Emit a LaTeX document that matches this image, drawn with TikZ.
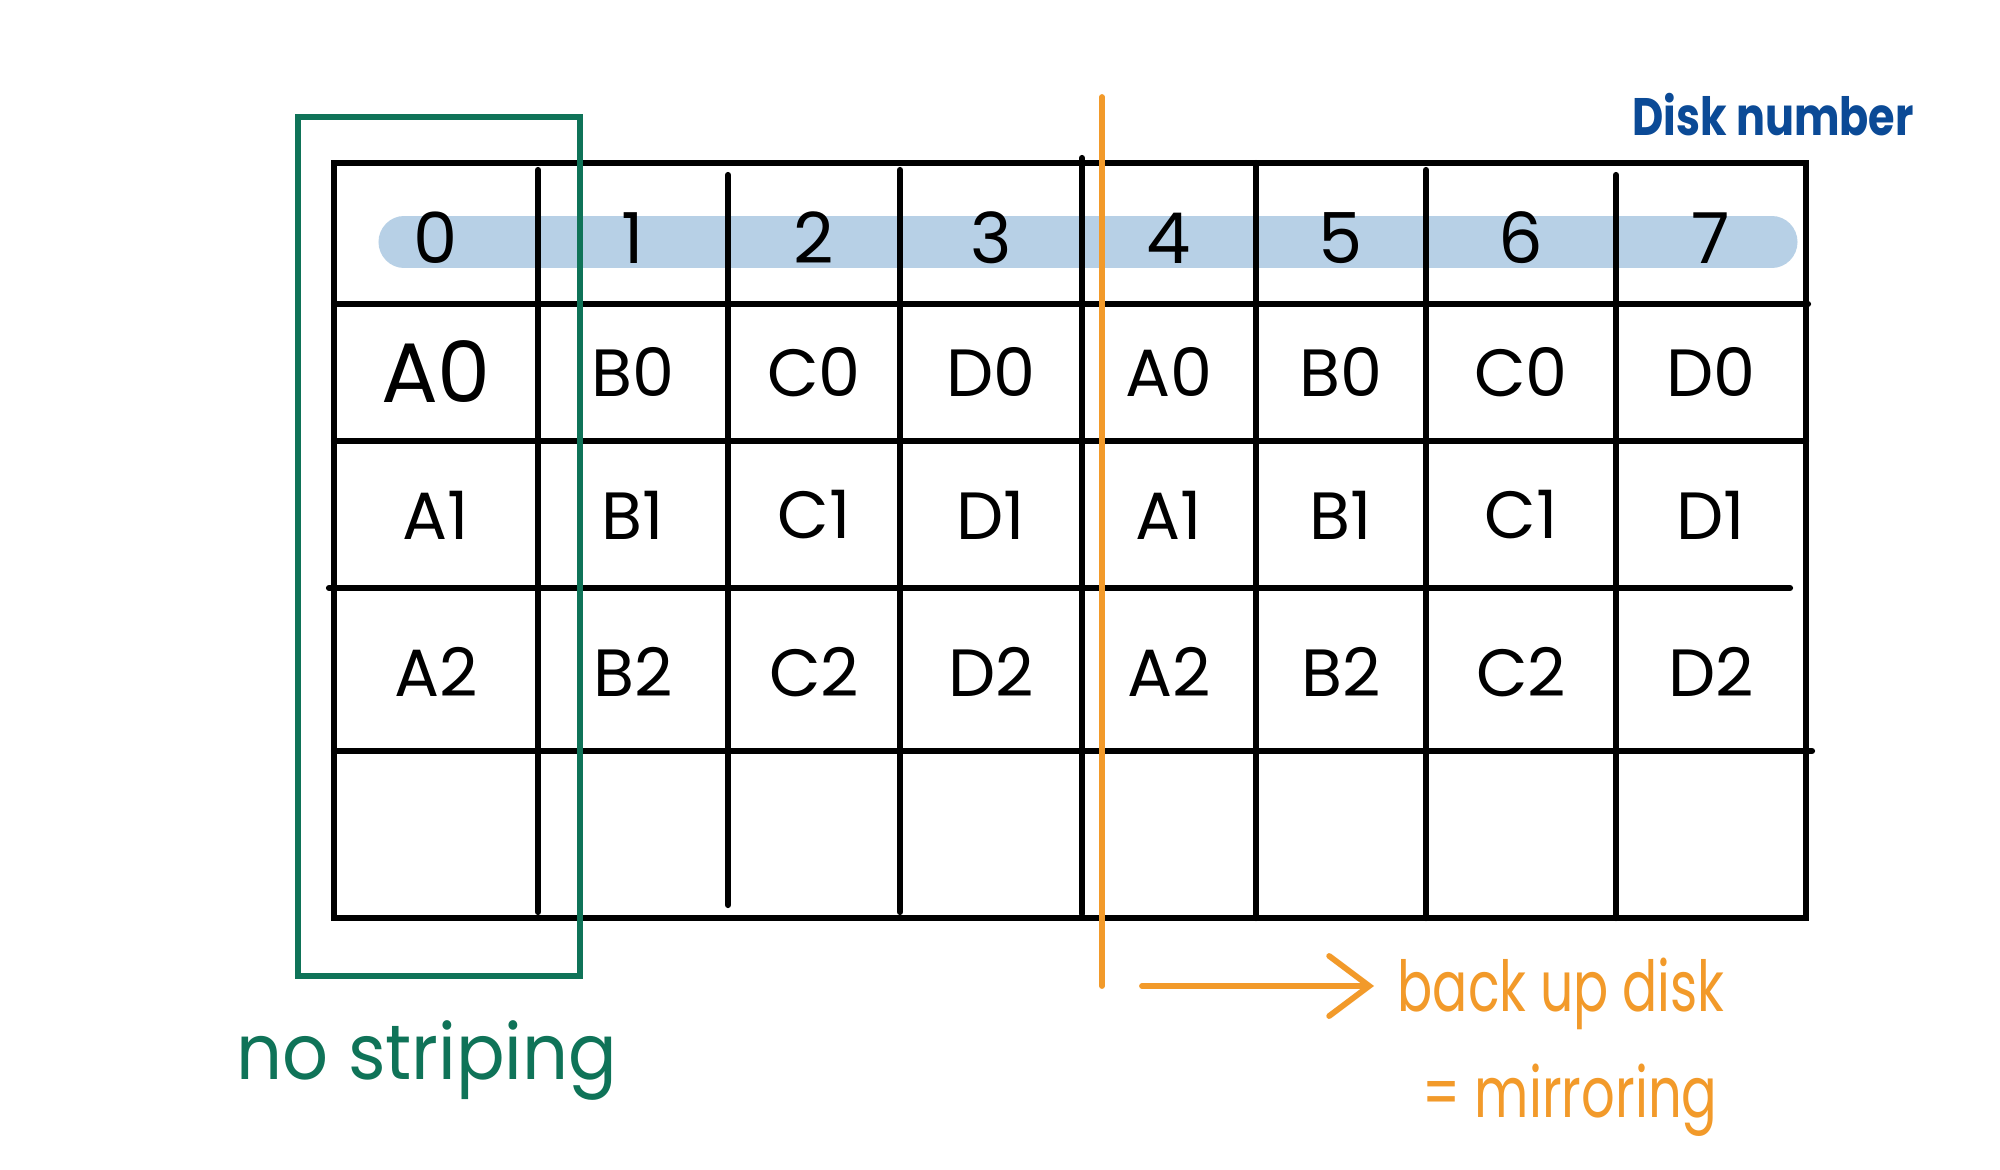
\documentclass[tikz,border=0pt]{standalone}
\usepackage{fontspec}
\setmainfont{Poppins}
\usetikzlibrary{arrows.meta}
\definecolor{tgreen}{HTML}{0F7358}
\definecolor{torange}{HTML}{F29A2A}
\definecolor{tblue}{HTML}{0B4A96}
\definecolor{tband}{HTML}{B7D0E6}
\tikzset{
  gridline/.style={line width=0.062cm, black, line cap=round},
  hdr/.style={font=\fontsize{20}{24}\selectfont, inner sep=0pt},
  cell/.style={font=\fontsize{19}{22}\selectfont, inner sep=0pt},
  bigcell/.style={font=\fontsize{24}{26}\selectfont, inner sep=0pt},
}
\begin{document}
\begin{tikzpicture}[x=0.01cm,y=-0.01cm]
\useasboundingbox[fill=white] (0,0) rectangle (2000,1170);
% header band
\draw[tband, line width=0.51cm, line cap=round] (404,242) -- (1772,242);
% table grid
\draw[gridline] (334,163) rectangle (1806,918);
\draw[gridline] (334,304) -- (1808,304);
\draw[gridline] (334,441) -- (1806,441);
\draw[gridline] (329,588) -- (1790,588);
\draw[gridline] (334,751) -- (1812,751);
\draw[gridline] (538,170) -- (538,912);
\draw[gridline] (728,175) -- (728,905);
\draw[gridline] (900,170) -- (900,912);
\draw[gridline] (1082,158) -- (1082,914);
\draw[gridline] (1256,163) -- (1256,918);
\draw[gridline] (1426,170) -- (1426,918);
\draw[gridline] (1616,175) -- (1616,918);
% green box
\draw[tgreen, line width=0.068cm] (298,117) rectangle (580,976);
% orange divider
\draw[torange, line width=0.058cm, line cap=round] (1102,97) -- (1102,986);
% header digits
\foreach \x/\t [count=\i] in {436/0,633/1,814/2,991/3,1169/4,1341/5,1521/6,1711/7}
  \node[hdr] (h\i) at (\x,238) {\t};
% rows
\node[bigcell] (r1c1) at (436,372) {A0};
\foreach \x/\t [count=\i from 2] in {633/B0,814/C0,991/D0,1169/A0,1341/B0,1521/C0,1711/D0}
  \node[cell] (r1c\i) at (\x,372) {\t};
\foreach \x/\t [count=\i] in {436/A1,633/B1,814/C1,991/D1,1169/A1,1341/B1,1521/C1,1711/D1}
  \node[cell] (r2c\i) at (\x,515) {\t};
\foreach \x/\t [count=\i] in {436/A2,633/B2,814/C2,991/D2,1169/A2,1341/B2,1521/C2,1711/D2}
  \node[cell] (r3c\i) at (\x,672) {\t};
% labels
\node[inner sep=0pt, text=tblue, font=\fontsize{15}{18}\selectfont\bfseries] (disk) at (1773,115) {\scalebox{0.815}[1]{Disk number}};
\node[inner sep=0pt, text=tgreen, font=\fontsize{22}{26}\selectfont] (nostr) at (427,1060) {\scalebox{0.93}[1]{no striping}};
\node[inner sep=0pt, text=torange, font=\fontsize{20}{24}\selectfont, anchor=west] (backup) at (1397,994) {\scalebox{0.74}[1]{back up disk}};
\node[inner sep=0pt, text=torange, font=\fontsize{20}{24}\selectfont, anchor=west] (mirr) at (1422,1100) {\scalebox{0.75}[1]{= mirroring}};
% arrow
\coordinate (arrS) at (1142,986);
\coordinate (arrE) at (1374,986);
\draw[torange, line width=0.058cm, line cap=round, -{Straight Barb[length=0.4cm, width=0.6cm, line cap=round]}] (arrS) -- (arrE);
\end{tikzpicture}
\end{document}
